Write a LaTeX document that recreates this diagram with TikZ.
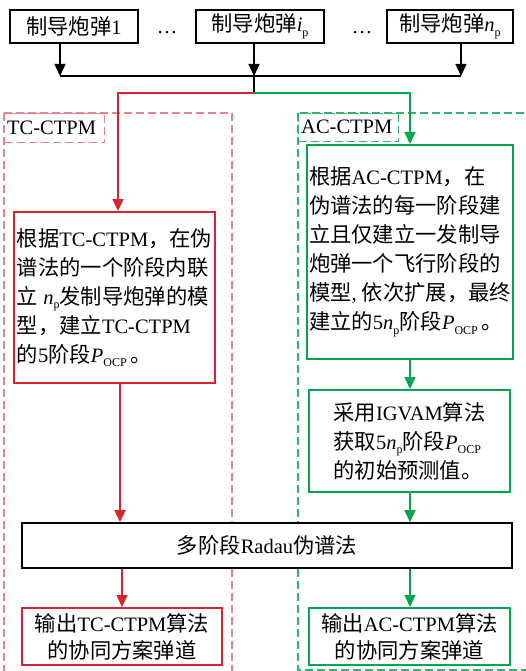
\documentclass[tikz,border=0pt]{standalone}
\usepackage{fontspec}
\setmainfont{Liberation Serif}
\newfontfamily\cjk{Noto Sans CJK SC}
\usetikzlibrary{arrows.meta}
\definecolor{myred}{HTML}{D9232E}
\definecolor{mygreen}{HTML}{00A550}
\definecolor{dred}{HTML}{E8838A}
\definecolor{dgreen}{HTML}{2DB46A}
\newcommand\zh[1]{{\cjk\fontsize{21.3}{29}\selectfont #1}}
\newcommand\sbp{\raisebox{-0.5ex}{\fontsize{12}{12}\selectfont p}}
\newcommand\Pocp{\textit{P}\raisebox{-0.5ex}{\fontsize{12}{12}\selectfont OCP}}
\newcommand\npp{\textit{n}\sbp}
\tikzset{
  txt/.style={font=\fontsize{20.5}{29}\selectfont, inner sep=2pt},
  topbox/.style={draw=black, line width=1.4pt, txt},
  redbox/.style={draw=myred, line width=2pt, txt, fill=white},
  greenbox/.style={draw=mygreen, line width=2pt, txt, fill=white},
  blackbox/.style={draw=black, line width=1.6pt, txt, fill=white},
  region/.style={dashed, dash pattern=on 8pt off 4pt, line width=1.1pt},
  arr/.style={-{Triangle[length=12pt,width=11pt]}},
}
\begin{document}
\begin{tikzpicture}[x=1pt,y=-1pt]
\useasboundingbox (0,0) rectangle (526,671);
% dashed regions
\draw[region, draw=dred] (4,113) rectangle (232,675);
\draw[region, draw=dgreen] (298,113) rectangle (532,670);
\node[region, draw=dred, anchor=north west, minimum width=100pt, minimum height=29pt, inner sep=3pt] (lt) at (4,113) {};
\node[anchor=west, font=\fontsize{20.5}{24}\selectfont, inner sep=0pt] (ltt) at (7,128) {TC-CTPM};
\node[region, draw=dgreen, anchor=north west, minimum width=100pt, minimum height=28pt, inner sep=3pt] (la) at (298,113) {};
\node[anchor=west, font=\fontsize{20.5}{24}\selectfont, inner sep=0pt] (lat) at (301,127) {AC-CTPM};

% top boxes
\node[topbox, minimum width=128pt, minimum height=33pt] (b1) at (74,26.5) {\zh{制导炮弹}1};
\node[topbox, minimum width=128pt, minimum height=33pt] (b2) at (260,26.5) {\zh{制导炮弹}\textit{i}\sbp};
\node[topbox, minimum width=126pt, minimum height=33pt] (b3) at (450,26.5) {\zh{制导炮弹}\npp};
\node[txt] (d1) at (167,33) {\ldots};
\node[txt] (d2) at (362,33) {\ldots};

% junction
\coordinate (j1) at (60,76);
\coordinate (j2) at (254,76);
\coordinate (j3) at (461,76);
\coordinate (s) at (254,93);
\coordinate (sr) at (118,93);
\coordinate (sg) at (410,93);
\draw[line width=1.4pt, arr] (b1.south -| j1) -- (j1);
\draw[line width=1.4pt, arr] (b2.south -| j2) -- (j2);
\draw[line width=1.4pt, arr] (b3.south -| j3) -- (j3);
\draw[line width=1.4pt] (j1) -- (j3);
\draw[line width=1.4pt] (j2) -- (s);

% main boxes
\node[redbox, minimum width=201pt, minimum height=171pt, align=left] (r1) at (114.5,297.5)
{\zh{根据}TC-CTPM\zh{，在伪}\\
 \zh{谱法的一个阶段内联}\\
 \zh{立} \npp\zh{发制导炮弹的模}\\
 \zh{型，建立}TC-CTPM\\
 \zh{的}5\zh{阶段}\Pocp\,\zh{。}};
\node[greenbox, minimum width=202pt, minimum height=214pt, align=left] (g1) at (410,252)
{\zh{根据}AC-CTPM\zh{，在}\\
 \zh{伪谱法的每一阶段建}\\
 \zh{立且仅建立一发制导}\\
 \zh{炮弹一个飞行阶段的}\\
 \zh{模型}, \zh{依次扩展，最终}\\
 \zh{建立的}5\npp\zh{阶段}\Pocp\,\zh{。}};
\node[greenbox, minimum width=201pt, minimum height=102pt, align=left] (g2) at (409.5,441)
{\zh{采用}IGVAM\zh{算法}\\
 \zh{获取}5\npp\zh{阶段}\Pocp\\
 \zh{的初始预测值。}};
\node[blackbox, minimum width=490pt, minimum height=45pt] (rad) at (267,545.5)
{\zh{多阶段}Radau\zh{伪谱法}};
\node[redbox, minimum width=200pt, minimum height=57pt, align=center, font=\fontsize{20.5}{27}\selectfont] (r2) at (122,636.5)
{\zh{输出}TC-CTPM\zh{算法}\\ \zh{的协同方案弹道}};
\node[greenbox, minimum width=201pt, minimum height=57pt, align=center, font=\fontsize{20.5}{27}\selectfont] (g3) at (409.5,636.5)
{\zh{输出}AC-CTPM\zh{算法}\\ \zh{的协同方案弹道}};

% connectors
\draw[line width=1.4pt, myred, arr] (s) -- (sr) -- (sr |- r1.north);
\draw[line width=1.4pt, mygreen, arr] (s) -- (sg) -- (sg |- g1.north);
\draw[line width=1.4pt, mygreen, arr] (g1.south -| sg) -- (g2.north -| sg);
\draw[line width=1.4pt, mygreen, arr] (g2.south -| sg) -- (rad.north -| sg);
\coordinate (rx) at (120,0);
\coordinate (rx2) at (122,0);
\draw[line width=1.4pt, myred, arr] (r1.south -| rx) -- (rad.north -| rx);
\draw[line width=1.4pt, myred, arr] (rad.south -| rx2) -- (r2.north -| rx2);
\draw[line width=1.4pt, mygreen, arr] (rad.south -| sg) -- (g3.north -| sg);
\end{tikzpicture}
\end{document}
